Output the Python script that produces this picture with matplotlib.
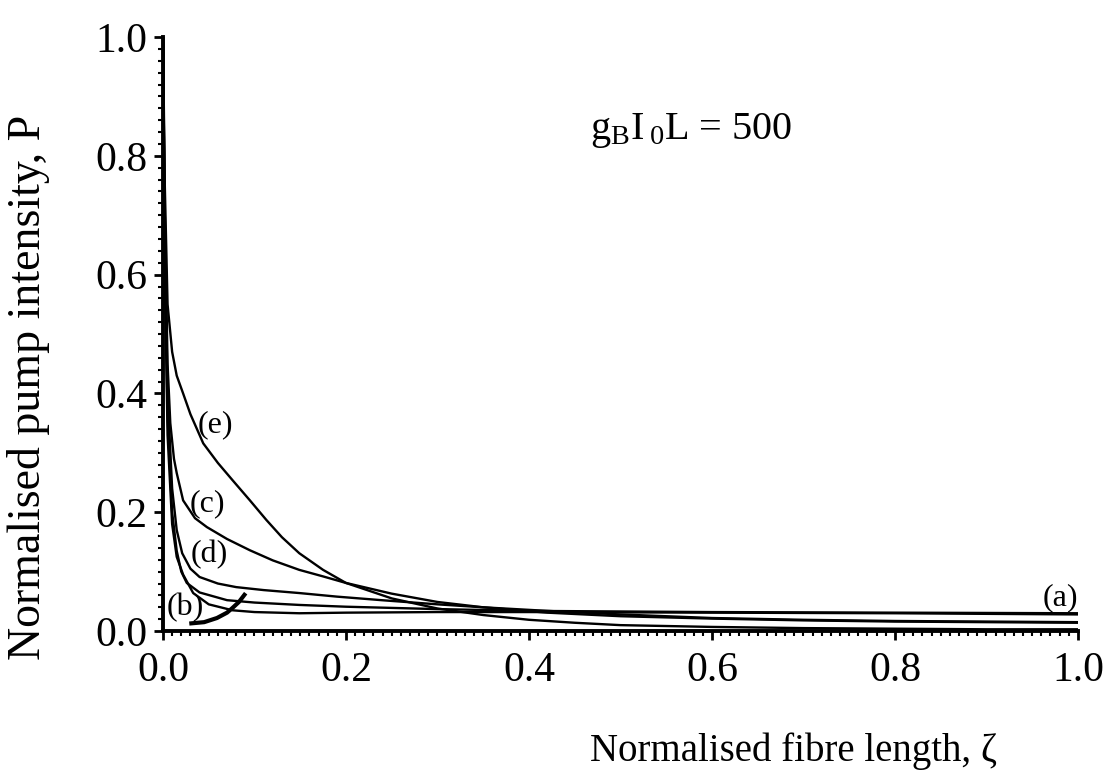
import matplotlib.pyplot as plt
from matplotlib.ticker import MultipleLocator

plt.rcParams['font.family'] = ['Liberation Serif', 'DejaVu Serif']
plt.rcParams['mathtext.fontset'] = 'custom'
plt.rcParams['mathtext.rm'] = 'Liberation Serif'
plt.rcParams['mathtext.it'] = 'Liberation Serif'

# curves (zeta, P)
a_x = [0, 0.002, 0.005, 0.01, 0.015, 0.022, 0.033, 0.05, 0.076, 0.1, 0.149, 0.2, 0.3, 0.4, 0.6, 0.8, 1.0]
a_y = [1.0, 0.6, 0.33, 0.18, 0.125, 0.095, 0.064, 0.045, 0.035, 0.032, 0.030, 0.031, 0.032, 0.032, 0.031, 0.03, 0.028]

b_x = [0, 0.002, 0.005, 0.01, 0.015, 0.02, 0.026, 0.04, 0.07, 0.1, 0.149, 0.2, 0.3, 0.4, 0.5, 0.6, 0.8, 1.0]
b_y = [1.0, 0.65, 0.36, 0.2, 0.135, 0.1, 0.081, 0.065, 0.052, 0.048, 0.044, 0.041, 0.037, 0.034, 0.033, 0.032, 0.031, 0.03]

c_x = [0, 0.002, 0.005, 0.008, 0.012, 0.015, 0.022, 0.035, 0.048, 0.07, 0.095, 0.12, 0.149, 0.175,
       0.2, 0.25, 0.3, 0.35, 0.42, 0.5, 0.6, 0.7, 0.8, 0.9, 1.0]
c_y = [1.0, 0.7, 0.45, 0.35, 0.29, 0.266, 0.22, 0.19, 0.175, 0.155, 0.136, 0.119, 0.103, 0.092,
       0.081, 0.063, 0.049, 0.04, 0.031, 0.025, 0.021, 0.018, 0.016, 0.015, 0.014]

d_x = [0, 0.002, 0.005, 0.01, 0.015, 0.021, 0.03, 0.04, 0.06, 0.08, 0.11, 0.149, 0.19, 0.239,
       0.3, 0.35, 0.42, 0.5, 0.6, 0.7, 0.8, 0.9, 1.0]
d_y = [1.0, 0.68, 0.4, 0.24, 0.17, 0.131, 0.105, 0.091, 0.08, 0.074, 0.069, 0.064, 0.058, 0.052,
       0.045, 0.04, 0.034, 0.028, 0.022, 0.019, 0.017, 0.016, 0.015]

e_x = [0, 0.002, 0.005, 0.01, 0.015, 0.022, 0.03, 0.044, 0.06, 0.076, 0.095, 0.113, 0.13, 0.149,
       0.175, 0.2, 0.25, 0.3, 0.35, 0.4, 0.45, 0.5, 0.6, 0.7, 0.8, 0.9, 1.0]
e_y = [1.0, 0.75, 0.55, 0.47, 0.43, 0.40, 0.365, 0.316, 0.283, 0.254, 0.22, 0.187, 0.158, 0.131,
       0.103, 0.081, 0.055, 0.038, 0.027, 0.019, 0.014, 0.01, 0.007, 0.005, 0.004, 0.003, 0.003]

# short thick leader next to the (b) label
arc_x = [0.031, 0.045, 0.059, 0.07, 0.076, 0.083, 0.089]
arc_y = [0.013, 0.015, 0.022, 0.031, 0.039, 0.049, 0.061]

labels = ['(a)', '(b)', '(c)', '(d)', '(e)']
label_x = [0.981, 0.024, 0.049, 0.051, 0.057]
label_y = [0.056, 0.04, 0.215, 0.128, 0.347]

fig = plt.figure(figsize=(11.05, 7.82), dpi=100)
ax = fig.add_axes([0.1475, 0.193, 0.828, 0.7597])

for xs, ys in [(a_x, a_y), (b_x, b_y), (c_x, c_y), (d_x, d_y), (e_x, e_y)]:
    ax.plot(xs, ys, color='black', lw=1.7)
ax.plot(arc_x, arc_y, color='black', lw=3)

for lab, lx, ly in zip(labels, label_x, label_y):
    ax.text(lx, ly, lab, fontsize=23, ha='center', va='center')

ax.text(0.577, 0.843, r'g$_{\rm B}$I$\,_{\rm 0}$L = 500', fontsize=29, ha='center', va='center')

ax.set_xlim(0, 1.0)
ax.set_ylim(0, 1.0)
ax.spines['top'].set_visible(False)
ax.spines['right'].set_visible(False)
ax.spines['left'].set_linewidth(2.8)
ax.spines['bottom'].set_linewidth(2.8)

ax.xaxis.set_major_locator(MultipleLocator(0.2))
ax.xaxis.set_minor_locator(MultipleLocator(0.01))
ax.yaxis.set_major_locator(MultipleLocator(0.2))
ax.yaxis.set_minor_locator(MultipleLocator(0.02))
ax.xaxis.set_major_formatter(lambda v, p: f'{v:.1f}')
ax.yaxis.set_major_formatter(lambda v, p: f'{v:.1f}')
ax.tick_params(which='major', direction='out', length=6.5, width=2, labelsize=30)
ax.tick_params(axis='y', which='major', pad=5)
ax.tick_params(axis='x', which='major', pad=8)
ax.tick_params(which='minor', direction='out', length=3.5, width=1.5)

ax.set_ylabel('Normalised pump intensity, P', fontsize=33)
ax.yaxis.set_label_coords(-0.123, 0.41)
ax.set_xlabel('Normalised fibre length, ζ', fontsize=28)
ax.xaxis.set_label_coords(0.689, -0.171)

fig.savefig('out.png', dpi=100)
